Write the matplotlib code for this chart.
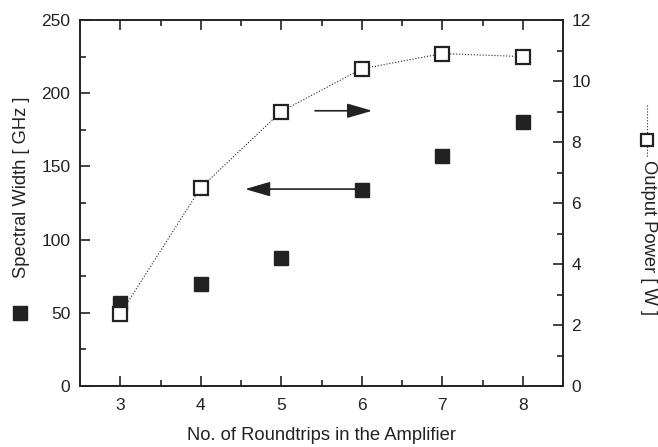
import matplotlib
matplotlib.use("Agg")
import matplotlib.pyplot as plt
from matplotlib.lines import Line2D

plt.rcParams['font.family'] = ['Liberation Sans', 'DejaVu Sans']

roundtrips = [3, 4, 5, 6, 7, 8]
spectral_width = [57, 70, 87.5, 134, 157, 180]
output_power = [2.36, 6.5, 9.0, 10.4, 10.9, 10.8]

fig = plt.figure(figsize=(6.58, 4.47), dpi=100)
ax = fig.add_axes([80/658, 1-386/447, (563-80)/658, (386-20)/447])
ax2 = ax.twinx()

dark = '#222222'
ax.plot(roundtrips, spectral_width, 's', color=dark, markersize=10, linestyle='none')
ax2.plot(roundtrips, output_power, linestyle=':', color=dark, linewidth=0.8,
         marker='s', markersize=10, markerfacecolor='white', markeredgecolor=dark,
         markeredgewidth=1.6)

ax.set_xlim(2.5, 8.5)
ax.set_ylim(0, 250)
ax2.set_ylim(0, 12)
ax.set_xticks(roundtrips)
ax.set_xticks([2.5, 3.5, 4.5, 5.5, 6.5, 7.5, 8.5], minor=True)
ax.set_yticks([0, 50, 100, 150, 200, 250])
ax.set_yticks([25, 75, 125, 175, 225], minor=True)
ax2.set_yticks([0, 2, 4, 6, 8, 10, 12])
ax2.set_yticks([1, 3, 5, 7, 9, 11], minor=True)

for a in (ax, ax2):
    for s in a.spines.values():
        s.set_linewidth(1.2)
        s.set_color(dark)
ax.tick_params(axis='both', which='both', direction='in', labelsize=12.5, colors=dark,
               top=True, width=1.2)
ax.tick_params(axis='both', which='major', length=7)
ax.tick_params(axis='both', which='minor', length=4)
ax.tick_params(axis='y', which='both', right=False, pad=7)
ax.tick_params(axis='x', which='both', pad=9)
ax2.tick_params(axis='y', which='both', direction='in', labelsize=12.5, colors=dark,
                width=1.2, pad=6)
ax2.tick_params(axis='y', which='major', length=7)
ax2.tick_params(axis='y', which='minor', length=4)

ax.set_xlabel('No. of Roundtrips in the Amplifier', fontsize=13.2, color=dark, labelpad=10)

# arrows
arrow_style = '-|>,head_length=1.1,head_width=0.32'
ax.annotate('', xy=(6.13, 188), xytext=(5.42, 188),
            arrowprops=dict(arrowstyle=arrow_style, color=dark, lw=1.2,
                            mutation_scale=14, shrinkA=0, shrinkB=0))
ax.annotate('', xy=(4.55, 134.5), xytext=(5.95, 134.5),
            arrowprops=dict(arrowstyle=arrow_style, color=dark, lw=1.2,
                            mutation_scale=14, shrinkA=0, shrinkB=0))

# left label with marker
fig.text(22/658, 1-187.5/447, 'Spectral Width [ GHz ]', rotation=90, fontsize=13.2,
         color=dark, ha='center', va='center')
fig.add_artist(Line2D([20/658], [1-313/447], marker='s', markersize=10,
                      color=dark, linestyle='none'))

# right label with marker
fig.text(648/658, 1-237/447, 'Output Power [ W ]', rotation=270, fontsize=13.2,
         color=dark, ha='center', va='center')
fig.add_artist(Line2D([647/658, 647/658], [1-105/447, 1-158/447], linestyle=':',
                      color=dark, linewidth=0.8))
fig.add_artist(Line2D([647/658], [1-140/447], marker='s', markersize=9,
                      markerfacecolor='white', markeredgecolor=dark,
                      markeredgewidth=1.6, linestyle='none'))

fig.savefig('out.png', dpi=100)
